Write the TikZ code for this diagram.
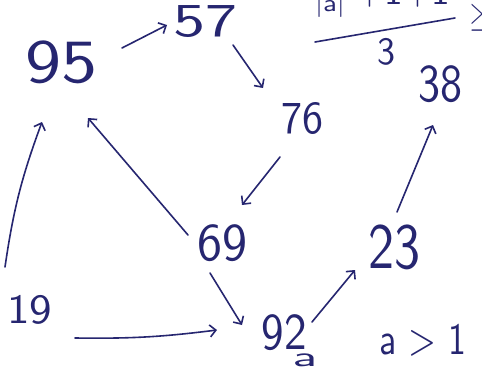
\documentclass[tikz,border=0pt]{standalone}
\usepackage{graphicx}
\usetikzlibrary{arrows.meta,calc}
\definecolor{ink}{RGB}{38,38,112}
\newcommand\hw[3]{\resizebox*{#1pt}{#2pt}{\sffamily #3}}
\begin{document}
\begin{tikzpicture}[x=1pt,y=-1pt,
  lbl/.style={inner sep=0pt,text=ink},
  arr/.style={draw=ink,line width=1.6pt,line cap=round,-{Straight Barb[length=6pt,width=12pt,line width=1.6pt]}}]
\fill[white] (0,0) rectangle (482,369);
\useasboundingbox (0,0) rectangle (482,369);
% numbers
\node[lbl] (n95) at (61,62) {\hw{72}{43}{95}};
\node[lbl] (n57) at (205,22) {\hw{64}{32}{57}};
\node[lbl] (n76) at (302,118) {\hw{42}{32}{76}};
\node[lbl] (n69) at (222,243) {\hw{50}{37}{69}};
\node[lbl] (n19) at (30,310) {\hw{45}{29}{19}};
\node[lbl] (n92) at (284,333) {\hw{45}{36}{92}};
\node[lbl] (na) at (305,360) {\hw{25}{13}{a}};
\node[lbl] (n23) at (394,247) {\hw{52}{45}{23}};
\node[lbl] (n38) at (440,84) {\hw{44}{37}{38}};
\node[lbl] (nagt) at (423,340) {\hw{87}{32}{a > 1}};
% top formula
\node[lbl] (nabs) at (330,6) {\hw{30}{24}{|a|}};
\node[lbl] (nplus) at (403,-6) {\hw{95}{26}{+1+1}};
\node[lbl] (n3) at (386,52) {\hw{18}{27}{3}};
\node[lbl] (nge) at (477,18) {\resizebox*{14pt}{27pt}{$\geq$}};
\draw[ink,line width=1.6pt,line cap=round] ($(n3)+(-71,-10)$) -- ($(n3)+(69,-34)$);
% arrows
\draw[arr] ($(n95)+(61,-14)$) -- ($(n57)+(-38,3)$);
\draw[arr] ($(n57)+(28,23)$) -- ($(n76)+(-39,-30)$);
\draw[arr] ($(n76)+(-22,39)$) -- ($(n69)+(20,-38)$);
\draw[arr] ($(n69)+(-34,-8)$) -- ($(n95)+(27,56)$);
\draw[arr] ($(n19)+(-25,-43)$) to[bend left=6] ($(n95)+(-19,60)$);
\draw[arr] ($(n19)+(45,28)$) to[bend right=4] ($(n92)+(-67,-3)$);
\draw[arr] ($(n69)+(-12,30)$) -- ($(n92)+(-42,-8)$);
\draw[arr] ($(n92)+(28,-11)$) -- ($(n23)+(-39,23)$);
\draw[arr] ($(n23)+(3,-35)$) -- ($(n38)+(-7,41)$);
\end{tikzpicture}
\end{document}
